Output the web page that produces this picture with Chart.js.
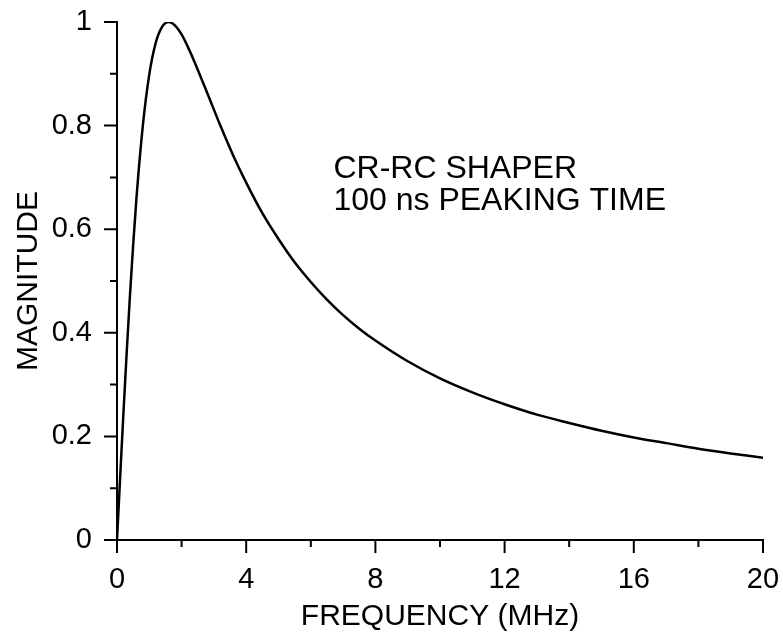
<!DOCTYPE html>
<html>
<head>
<meta charset="utf-8">
<script src="https://cdn.jsdelivr.net/npm/chart.js@4.4.1/dist/chart.umd.min.js"></script>
<style>
  html, body { margin: 0; padding: 0; background: #fff; }
  #wrap { width: 783px; height: 636px; }
</style>
</head>
<body>
<div id="wrap"><canvas id="shaperChart"></canvas></div>
<script>
// frequency response (MHz vs. normalised magnitude)
const frequency = [0, 0.1, 0.2, 0.3, 0.4, 0.5, 0.6, 0.8, 1.0, 1.2, 1.4, 1.6, 1.8, 2.0, 2.2, 2.4, 2.8, 3.2, 3.6,
  4, 4.5, 5, 5.5, 6, 6.5, 7, 7.5, 8, 9, 10, 11, 12, 13, 14, 15, 16, 17, 18, 19, 20];
const magnitude = [0, 0.124, 0.246, 0.362, 0.471, 0.569, 0.658, 0.8, 0.899, 0.96, 0.991, 1.0, 0.993, 0.976, 0.951, 0.923, 0.862, 0.8, 0.742,
  0.69, 0.631, 0.581, 0.536, 0.498, 0.464, 0.434, 0.408, 0.385, 0.345, 0.312, 0.285, 0.262, 0.242, 0.226, 0.211, 0.198, 0.187, 0.176, 0.167, 0.159];

const xMajor = [0, 4, 8, 12, 16, 20];
const xMinor = [2, 6, 10, 14, 18];
const yMajor = [0, 0.2, 0.4, 0.6, 0.8, 1];
const yMinor = [0.1, 0.3, 0.5, 0.7, 0.9];
const noteLines = ['CR-RC SHAPER', '100 ns PEAKING TIME'];

const FONT = '"Liberation Sans", Arial, sans-serif';

// outward tick marks, long on major and short on minor values
const tickMarks = {
  id: 'tickMarks',
  afterDraw(chart) {
    const { ctx, chartArea, scales: { x, y } } = chart;
    ctx.save();
    ctx.strokeStyle = '#000';
    ctx.lineWidth = 2;
    ctx.beginPath();
    xMajor.forEach(v => { const p = x.getPixelForValue(v); ctx.moveTo(p, chartArea.bottom); ctx.lineTo(p, chartArea.bottom + 13); });
    xMinor.forEach(v => { const p = x.getPixelForValue(v); ctx.moveTo(p, chartArea.bottom); ctx.lineTo(p, chartArea.bottom + 7); });
    yMajor.forEach(v => { const p = y.getPixelForValue(v); ctx.moveTo(chartArea.left, p); ctx.lineTo(chartArea.left - 13, p); });
    yMinor.forEach(v => { const p = y.getPixelForValue(v); ctx.moveTo(chartArea.left, p); ctx.lineTo(chartArea.left - 7, p); });
    ctx.stroke();

    // annotation text
    ctx.fillStyle = '#000';
    ctx.font = '32px ' + FONT;
    ctx.textAlign = 'left';
    ctx.textBaseline = 'middle';
    const tx = x.getPixelForValue(6.7);
    ctx.fillText(noteLines[0], tx, y.getPixelForValue(0.716));
    ctx.fillText(noteLines[1], tx, y.getPixelForValue(0.654));
    ctx.restore();
  }
};

const ctx = document.getElementById('shaperChart').getContext('2d');
const chart = new Chart(ctx, {
  type: 'line',
  data: {
    datasets: [{
      data: frequency.map((f, i) => ({ x: f, y: magnitude[i] })),
      borderColor: '#000',
      borderWidth: 2.5,
      pointRadius: 0,
      fill: false,
      cubicInterpolationMode: 'monotone'
    }]
  },
  options: {
    responsive: true,
    maintainAspectRatio: false,
    animation: false,
    layout: { padding: { left: 0, right: 20, top: 22, bottom: 0 } },
    scales: {
      x: {
        type: 'linear',
        min: 0,
        max: 20,
        afterBuildTicks: axis => { axis.ticks = xMajor.map(v => ({ value: v })); },
        afterFit: axis => { axis.height = 96; axis.paddingLeft = 0; axis.paddingRight = 0; },
        ticks: {
          color: '#000',
          font: { family: FONT, size: 29 },
          padding: 10,
          maxRotation: 0,
          autoSkip: false,
          callback: v => String(v)
        },
        grid: { display: false, drawTicks: true, tickLength: 13 },
        border: { display: true, color: '#000', width: 2 },
        title: {
          display: true,
          text: 'FREQUENCY (MHz)',
          color: '#000',
          font: { family: FONT, size: 30, lineHeight: 1 },
          padding: { top: 0, bottom: 4 }
        }
      },
      y: {
        type: 'linear',
        min: 0,
        max: 1,
        afterBuildTicks: axis => { axis.ticks = yMajor.map(v => ({ value: v })); },
        afterFit: axis => { axis.width = 117; axis.paddingTop = 0; axis.paddingBottom = 0; },
        ticks: {
          color: '#000',
          font: { family: FONT, size: 29 },
          padding: 12,
          callback: v => String(v)
        },
        grid: { display: false, drawTicks: true, tickLength: 13 },
        border: { display: true, color: '#000', width: 2 },
        title: {
          display: true,
          text: 'MAGNITUDE',
          color: '#000',
          font: { family: FONT, size: 30, lineHeight: 1 },
          padding: { top: 14, bottom: 0 }
        }
      }
    },
    plugins: {
      legend: { display: false },
      tooltip: { enabled: false }
    }
  },
  plugins: [tickMarks]
});
</script>
</body>
</html>
